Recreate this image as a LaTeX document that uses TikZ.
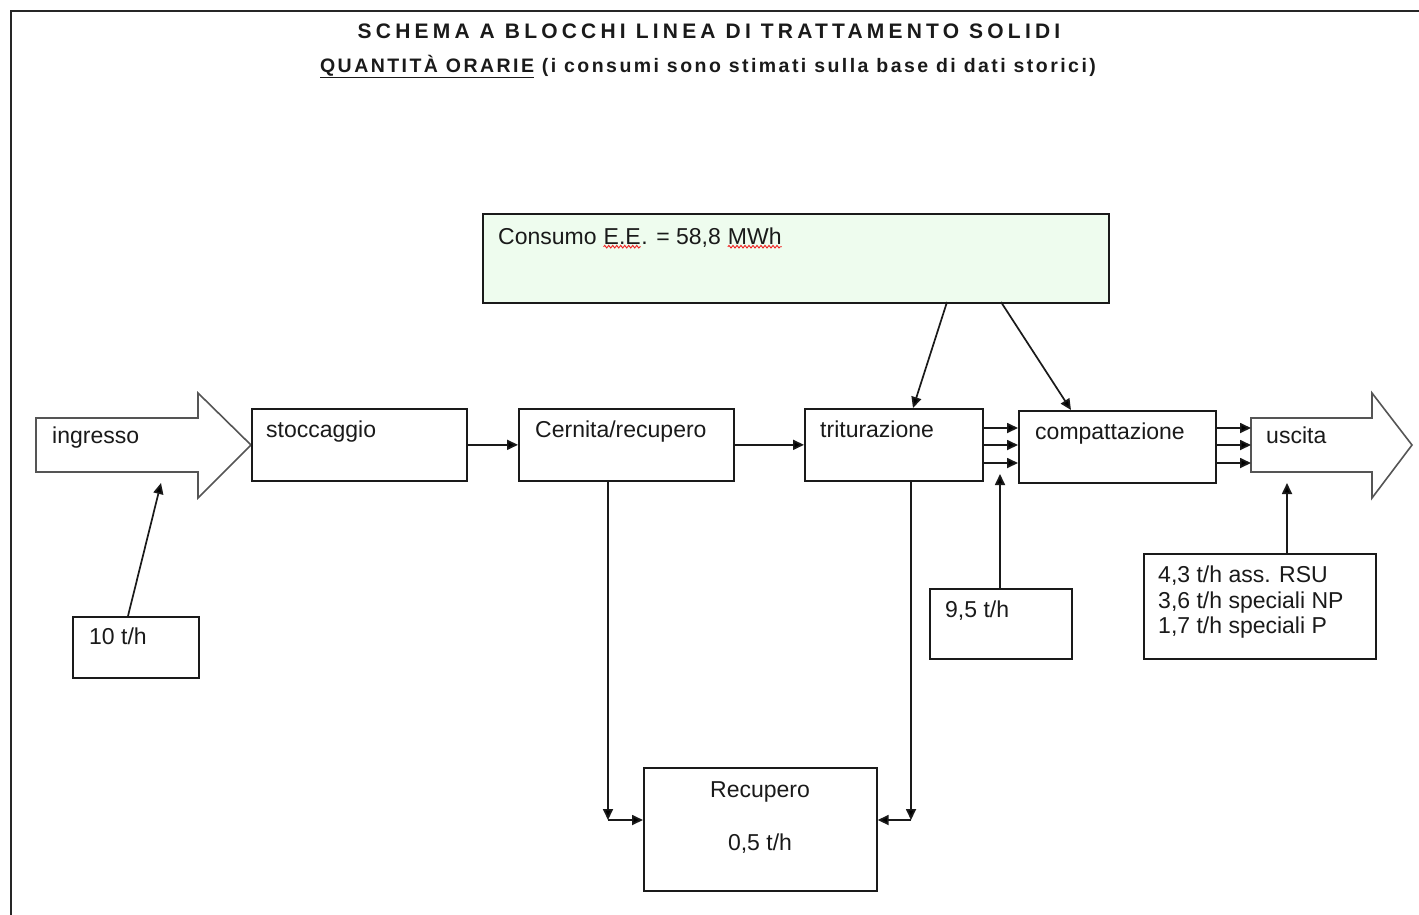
\documentclass[tikz,border=0pt]{standalone}
\usepackage{fontspec}
\setmainfont{Liberation Sans}
\newfontfamily\titlefont{Liberation Sans}[LetterSpace=20]
\newfontfamily\subfont{Liberation Sans}[LetterSpace=12.6]
\usetikzlibrary{arrows.meta,decorations.pathmorphing}
\definecolor{boxgreen}{HTML}{EEFCEE}
\definecolor{ink}{HTML}{1A1A1A}
\definecolor{arrowline}{HTML}{555555}
\definecolor{squig}{HTML}{F02020}
\newcommand\wavy[1]{\tikz[baseline=(w.base)]{\node[inner sep=0pt] (w) {#1};\draw[squig, line width=0.9pt, decorate, decoration={snake,amplitude=1.3pt,segment length=4pt}] ([yshift=-2.5pt]w.south west) -- ([yshift=-2.5pt]w.south east);}}
\begin{document}
\begin{tikzpicture}[x=1pt,y=-1pt,
  box/.style={draw=ink, line width=1.7pt, inner sep=0pt, anchor=north west, fill=white},
  lab/.style={anchor=base west, inner sep=0pt, text=ink, font=\fontsize{23}{26}\selectfont},
  conn/.style={draw=ink, line width=1.7pt, -{Triangle[length=11pt,width=10pt]}},
  bigarrow/.style={draw=arrowline, line width=1.6pt, fill=white, line join=miter}]
\useasboundingbox (0,0) rectangle (1419,914);
% frame
\draw[line width=2.6pt, draw=black!85] (11,930) -- (11,11) -- (1430,11);
% titles
\node[anchor=base, inner sep=0pt, text=ink, font=\titlefont\bfseries\fontsize{21}{24}\selectfont] (title) at (709,38) {SCHEMA A BLOCCHI LINEA DI TRATTAMENTO SOLIDI};
\node[anchor=base, inner sep=0pt, text=ink, font=\subfont\bfseries\fontsize{19.5}{22}\selectfont] (subtitle) at (708,72) {\underline{QUANTITÀ ORARIE} (i consumi sono stimati sulla base di dati storici)};
% energy box
\node[box, fill=boxgreen, minimum width=626pt, minimum height=89pt] (cons) at (482,213) {};
\node[lab] (consT) at (498,244) {Consumo \wavy{E.E}. = 58,8 \wavy{MWh}};
% ingresso arrow
\draw[bigarrow] (36,418) -- (198,418) -- (198,393) -- (251,445) -- (198,498) -- (198,472) -- (36,472) -- cycle;
\node[lab] (ingT) at (52,443) {ingresso};
\coordinate (ingB) at (161,483);
% uscita arrow
\draw[bigarrow] (1251,418) -- (1372,418) -- (1372,393) -- (1412,445) -- (1372,498) -- (1372,472) -- (1251,472) -- cycle;
\coordinate (uscL) at (1251,445);
\coordinate (uscB) at (1287,483);
\node[lab] (uscT) at (1266,443) {uscita};
% process boxes
\node[box, minimum width=215pt, minimum height=72pt] (stoc) at (251,408) {};
\node[lab] (stocT) at (266,437) {stoccaggio};
\node[box, minimum width=215pt, minimum height=72pt] (cern) at (518,408) {};
\node[lab] (cernT) at (535,437) {Cernita/recupero};
\node[box, minimum width=178pt, minimum height=72pt] (trit) at (804,408) {};
\node[lab] (tritT) at (820,437) {triturazione};
\node[box, minimum width=197pt, minimum height=72pt] (comp) at (1018,410) {};
\node[lab] (compT) at (1035,439) {compattazione};
% input boxes
\node[box, minimum width=126pt, minimum height=61pt] (in10) at (72,616) {};
\node[lab] (in10T) at (89,644) {10 t/h};
\node[box, minimum width=142pt, minimum height=70pt] (in95) at (929,588) {};
\node[lab] (in95T) at (945,617) {9,5 t/h};
\node[box, minimum width=232pt, minimum height=105pt] (out) at (1143,553) {};
\node[lab, align=left, anchor=north west, font=\fontsize{23}{25.5}\selectfont] (outT) at (1158,566) {4,3 t/h ass. RSU\\3,6 t/h speciali NP\\1,7 t/h speciali P};
% recupero box
\node[box, minimum width=233pt, minimum height=123pt] (rec) at (643,767) {};
\node[lab, anchor=base] (recT) at (760,797) {Recupero};
\node[lab, anchor=base] (recV) at (760,850) {0,5 t/h};
% connectors
\draw[conn] (stoc.east) -- (cern.west);
\draw[conn] (cern.east) -- (trit.west);
\foreach \yy in {428,445,463} {
  \draw[conn] (trit.east |- 0,\yy) -- (comp.west |- 0,\yy);
  \draw[conn] (comp.east |- 0,\yy) -- (uscL |- 0,\yy);
}
\coordinate (c1) at (947,302);
\coordinate (c2) at (1001,302);
\coordinate (tB) at (1000,474);
\draw[conn] (c1) -- (trit.north -| 913,0);
\draw[conn] (c2) -- (comp.north -| 1071,0);
\draw[conn] (in10.north -| 128,0) -- (ingB);
\draw[conn] (in95.north -| tB) -- (tB);
\draw[conn] (out.north -| uscB) -- (uscB);
% recupero flows
\coordinate (rL) at (608,820);
\coordinate (rR) at (911,820);
\draw[conn] (cern.south -| rL) -- (rL);
\draw[conn] (rL) -- (rec.west |- rL);
\draw[conn] (trit.south -| rR) -- (rR);
\draw[conn] (rR) -- (rec.east |- rR);
\end{tikzpicture}
\end{document}
